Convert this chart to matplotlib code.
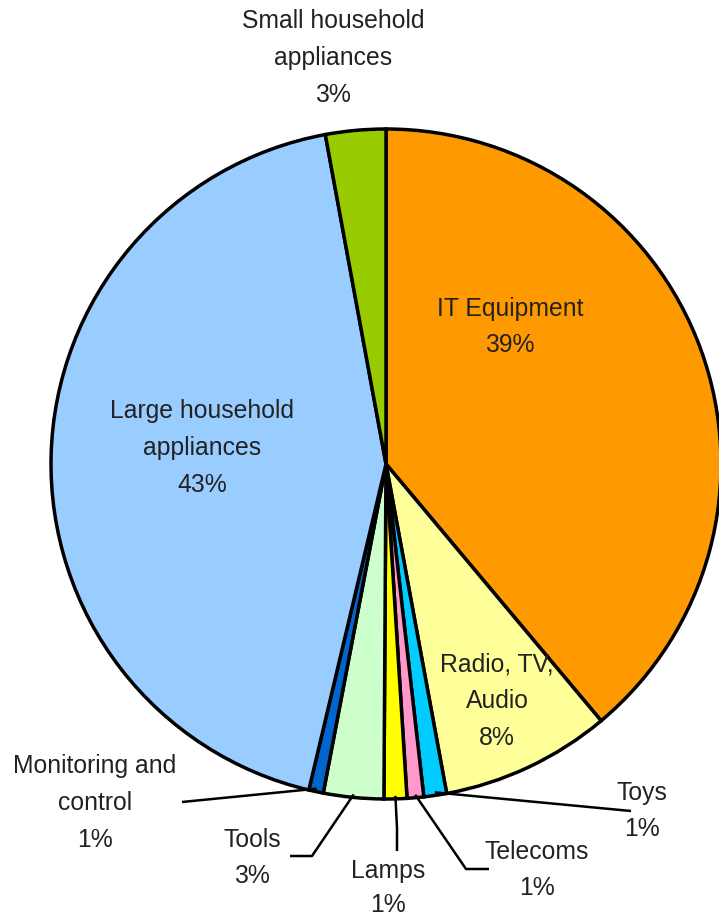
import numpy as np
import matplotlib
matplotlib.use("Agg")
import matplotlib.pyplot as plt

# ---- data (clockwise from 12 o'clock) ----
categories = ["IT Equipment", "Radio, TV,\nAudio", "Toys", "Telecoms", "Lamps",
              "Tools", "Monitoring and\ncontrol", "Large household\nappliances",
              "Small household\nappliances"]
shares = [38.9, 8.2, 1.1, 0.8, 1.1, 2.9, 0.7, 43.4, 2.9]
colors = ["#FF9900", "#FFFF99", "#00CCFF", "#FF99CC", "#FFFF00",
          "#CCFFCC", "#0066CC", "#99CCFF", "#99CC00"]

# ---- layout (pixel coordinates, y downward) ----
W, H = 719, 921
center = (386, 464)
radius = 335
label_pos = [(510, 327), (497, 701), (642, 811), (537, 870), (388, 888),
             (252, 858), (95, 803), (202, 448), (333, 58)]
# leader line vertices (from label side), None = no leader
leaders = [None, None,
           [(631, 811)],
           [(489, 869), (466, 869)],
           [(397, 851), (397, 828)],
           [(290, 856), (312, 856)],
           [(182, 802)],
           None, None]

plt.rcParams['font.family'] = ['Liberation Sans', 'DejaVu Sans']
fig = plt.figure(figsize=(W / 100, H / 100), dpi=100)
ax = fig.add_axes([0, 0, 1, 1])

wedges, _ = ax.pie(shares, colors=colors, center=center, radius=radius,
                   startangle=-90, counterclock=True,
                   wedgeprops=dict(edgecolor="black", linewidth=2.5))
ax.set_xlim(0, W)
ax.set_ylim(H, 0)
ax.set_aspect('equal')
ax.axis('off')

for i, (w, name, val) in enumerate(zip(wedges, categories, shares)):
    x, y = label_pos[i]
    ax.text(x, y, f"{name}\n{val:.0f}%", ha="center", va="center",
            fontsize=17.8, linespacing=1.66 if i != 4 else 1.5,
            color="#222222")
    if leaders[i] is not None:
        mid = np.deg2rad((w.theta1 + w.theta2) / 2)
        px = w.center[0] + (w.r - 3) * np.cos(mid)
        py = w.center[1] + (w.r - 3) * np.sin(mid)
        pts = leaders[i] + [(px, py)]
        xs, ys = zip(*pts)
        ax.plot(xs, ys, color="black", linewidth=1.8, solid_capstyle="butt")

fig.savefig("out.png", dpi=100)
